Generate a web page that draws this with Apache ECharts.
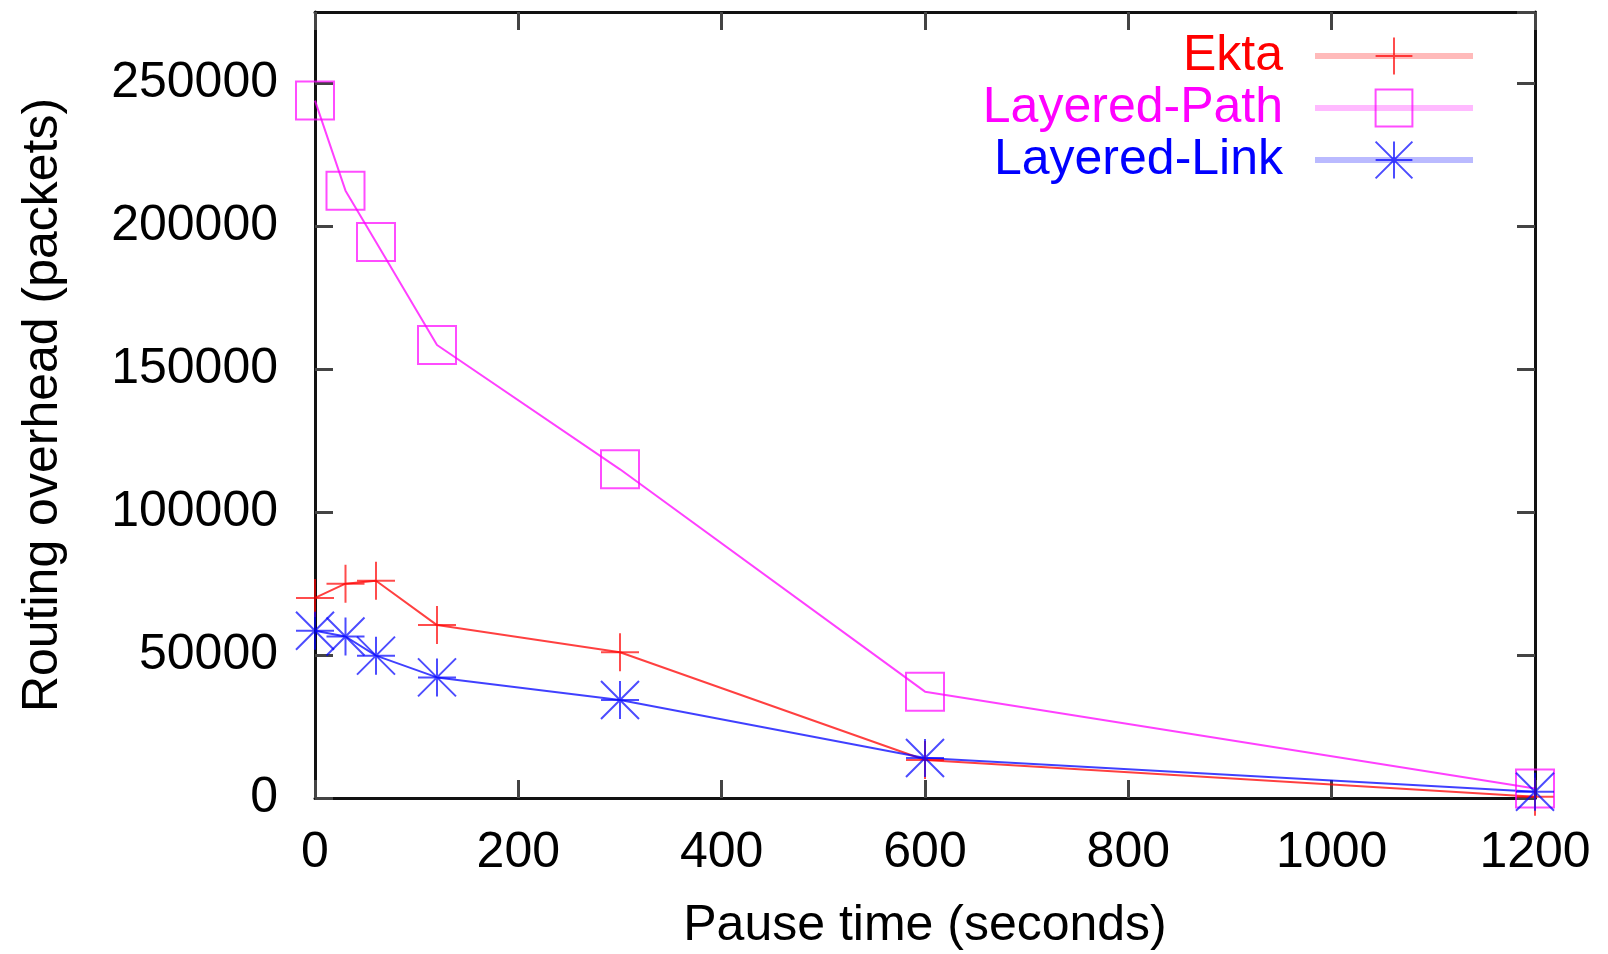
<!DOCTYPE html>
<html>
<head>
<meta charset="utf-8">
<title>Routing overhead</title>
<script src="https://cdn.jsdelivr.net/npm/echarts@6/dist/echarts.min.js"></script>
<style>
    html, body {margin: 0; padding: 0; background: #fff;}
    #overhead-chart {width: 1608px; height: 954px;}
</style>
</head>
<body>
<div id="overhead-chart"></div>
<script>
/*
* 暂停时间与路由开销
* */
var pauseTimes = [0, 30, 60, 120, 300, 600, 1200];
var ekta = [70000, 75000, 76000, 60500, 51000, 13300, 400];
var layeredPath = [244000, 212500, 194500, 158500, 115000, 37200, 3300];
var layeredLink = [58500, 56500, 49800, 42200, 34300, 14000, 2200];

var xTicks = {min: 0, max: 1200, interval: 200};
var yTicks = {min: 0, max: 275000, interval: 50000};

var PLUS = 'path://M0,5L10,5M5,0L5,10';
var STAR = 'path://M0,5L10,5M5,0L5,10M0,0L10,10M10,0L0,10';
var FONT = 'Liberation Sans';

function pairs(values) {
    return pauseTimes.map(function (t, i) { return [t, values[i]]; });
}

function axis(pos, showLabel) {
    return {
        type: 'value',
        position: pos,
        axisLine: {show: true, onZero: false, lineStyle: {color: '#111', width: 3}},
        axisTick: {show: true, inside: true, length: 18, lineStyle: {color: '#444', width: 3}},
        splitLine: {show: false},
        axisLabel: {
            show: showLabel,
            color: '#000',
            fontFamily: FONT,
            fontSize: 50,
            showMaxLabel: false,
            formatter: function (v) { return String(v); } //不要千分位
        }
    };
}

function series(name, values, color, symbol) {
    return {
        name: name,
        type: 'line',
        data: pairs(values),
        symbol: symbol,
        symbolSize: 38,
        clip: false,
        lineStyle: {color: color, width: 2, opacity: 0.75},
        itemStyle: {color: 'transparent', borderColor: color, borderWidth: 2, opacity: 0.7},
        emphasis: {disabled: true}
    };
}

var chart = echarts.init(document.getElementById('overhead-chart'));

var xBottom = axis('bottom', true);
xBottom.name = 'Pause time (seconds)';
xBottom.nameLocation = 'middle';
xBottom.nameGap = 103;
xBottom.nameTextStyle = {color: '#000', fontFamily: FONT, fontSize: 50};
xBottom.axisLabel.margin = 30;
xBottom.axisLabel.showMaxLabel = true;

var yLeft = axis('left', true);
yLeft.name = 'Routing overhead (packets)';
yLeft.nameLocation = 'middle';
yLeft.nameGap = 247;
yLeft.nameTextStyle = {color: '#000', fontFamily: FONT, fontSize: 50};
yLeft.axisLabel.margin = 37;

var option = {
    animation: false,
    backgroundColor: '#fff',
    // 不让 v6 自动收缩网格
    grid: {left: 315, right: 73, top: 12, bottom: 156, outerBoundsMode: 'none'},
    legend: {
        orient: 'vertical',
        align: 'right',
        right: 132,
        top: 30,
        padding: 0,
        itemWidth: 158,
        itemHeight: 46,
        itemGap: 0,
        textStyle: {fontFamily: FONT, fontSize: 50, lineHeight: 52, padding: [0, 27, 0, 0]},
        lineStyle: {width: 6, opacity: 0.27},
        data: [
            {name: 'Ekta', textStyle: {color: '#ff0000'}},
            {name: 'Layered-Path', textStyle: {color: '#ff00ff'}},
            {name: 'Layered-Link', textStyle: {color: '#0000ff'}}
        ]
    },
    xAxis: [
        Object.assign(xBottom, xTicks),
        Object.assign(axis('top', false), xTicks)
    ],
    yAxis: [
        Object.assign(yLeft, yTicks),
        Object.assign(axis('right', false), yTicks)
    ],
    series: [
        series('Ekta', ekta, '#ff0000', PLUS),
        series('Layered-Path', layeredPath, '#ff00ff', 'rect'),
        series('Layered-Link', layeredLink, '#0000ff', STAR)
    ]
};

chart.setOption(option);
</script>
</body>
</html>
